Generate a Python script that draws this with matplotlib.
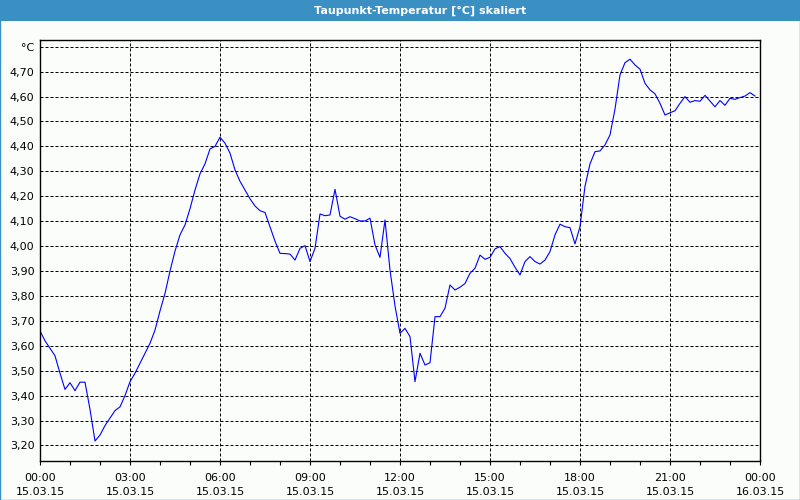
import numpy as np
import pandas as pd
import matplotlib
matplotlib.use("Agg")
import matplotlib.pyplot as plt
import matplotlib.dates as mdates
from matplotlib.patches import Rectangle

# dew point readings, one every 10 minutes from 15.03.15 00:00
start = "2015-03-15 00:00"
dew_point = [
    3.66, 3.62, 3.59, 3.56, 3.49, 3.425, 3.452, 3.42, 3.454, 3.454,
    3.345, 3.218, 3.242, 3.28, 3.31, 3.34, 3.355, 3.40, 3.456, 3.49,
    3.53, 3.57, 3.61, 3.663, 3.74, 3.81, 3.90, 3.98, 4.045, 4.085,
    4.15, 4.225, 4.29, 4.33, 4.39, 4.40, 4.437, 4.413, 4.373, 4.306,
    4.26, 4.225, 4.19, 4.161, 4.142, 4.135, 4.078, 4.02, 3.971, 3.97,
    3.968, 3.944, 3.991, 4.002, 3.938, 3.991, 4.129, 4.122, 4.125, 4.228,
    4.12, 4.108, 4.118, 4.11, 4.101, 4.101, 4.112, 4.005, 3.955, 4.105,
    3.904, 3.76, 3.65, 3.67, 3.637, 3.456, 3.57, 3.523, 3.532, 3.717,
    3.717, 3.751, 3.844, 3.824, 3.835, 3.85, 3.891, 3.911, 3.964, 3.947,
    3.955, 3.989, 3.998, 3.971, 3.95, 3.915, 3.884, 3.938, 3.958, 3.938,
    3.928, 3.944, 3.978, 4.045, 4.088, 4.078, 4.074, 4.009, 4.078, 4.24,
    4.33, 4.379, 4.382, 4.406, 4.446, 4.55, 4.687, 4.736, 4.75, 4.727,
    4.71, 4.653, 4.627, 4.611, 4.573, 4.526, 4.535, 4.543, 4.573, 4.60,
    4.577, 4.584, 4.581, 4.605, 4.582, 4.559, 4.584, 4.565, 4.593, 4.589,
    4.596, 4.602, 4.616, 4.602,
]
y_ticks = [3.2, 3.3, 3.4, 3.5, 3.6, 3.7, 3.8, 3.9, 4.0, 4.1, 4.2, 4.3, 4.4, 4.5, 4.6, 4.7, 4.8]
y_labels = ["3,20", "3,30", "3,40", "3,50", "3,60", "3,70", "3,80", "3,90", "4,00",
            "4,10", "4,20", "4,30", "4,40", "4,50", "4,60", "4,70", "°C"]
title = "Taupunkt-Temperatur [°C] skaliert"

times = pd.date_range(start, periods=len(dew_point), freq="10min")

plt.rcParams['font.family'] = ['DejaVu Sans']
fig = plt.figure(figsize=(8, 5), dpi=100)
fig.patch.set_facecolor('#fbfdfb')

# title bar and thin window frame
fig.patches.append(Rectangle((0, 0.958), 1, 0.042, transform=fig.transFigure,
                             facecolor='#3a8fc3', edgecolor='none', zorder=0))
fig.patches.append(Rectangle((0.0006, 0.001), 0.9988, 0.998, transform=fig.transFigure,
                             facecolor='none', edgecolor='#3a8fc3', linewidth=1.0, zorder=0))
fig.text(0.525, 0.979, title, color='white', fontsize=8, fontweight='bold',
         ha='center', va='center')

ax = fig.add_axes([0.05, 0.0786, 0.9, 0.8414])
ax.set_facecolor('#fbfdfb')
ax.plot(times, dew_point, color='#0000ff', linewidth=0.8)

t0 = pd.Timestamp(start)
ax.set_xlim(t0, t0 + pd.Timedelta(hours=24))
ax.set_ylim(3.139, 4.827)

ax.xaxis.set_major_locator(mdates.HourLocator(byhour=range(0, 24, 3)))
ax.xaxis.set_minor_locator(mdates.HourLocator())
ax.xaxis.set_major_formatter(mdates.DateFormatter('%H:%M\n%d.%m.%y'))
ax.set_yticks(y_ticks)
ax.set_yticklabels(y_labels)

ax.grid(True, which='major', color='black', linestyle=(0, (3, 2)), linewidth=0.72)
ax.tick_params(axis='x', which='both', direction='out', length=3, width=0.8,
               labelsize=8, pad=6, colors='black')
ax.tick_params(axis='y', length=0, labelsize=8, pad=4)
for lbl in ax.get_xticklabels():
    lbl.set_linespacing(1.5)
for s in ax.spines.values():
    s.set_color('black')
    s.set_linewidth(1.0)

fig.savefig("out.png", dpi=100, facecolor=fig.get_facecolor())
